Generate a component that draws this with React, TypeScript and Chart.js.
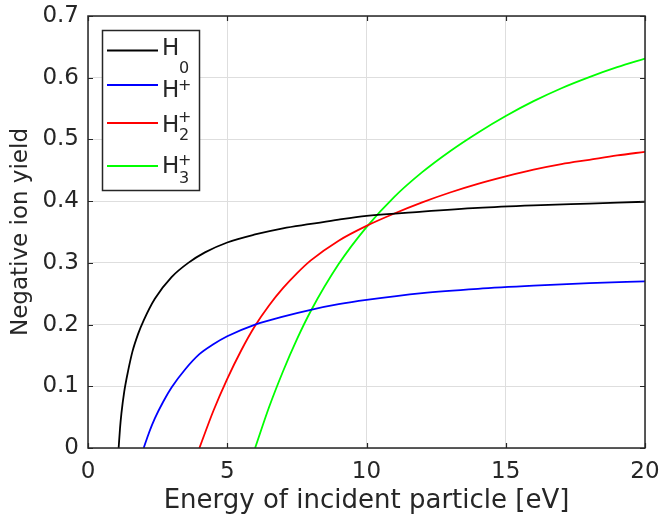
import React, { useEffect, useRef } from "react";
import { Chart, registerables } from "chart.js";

Chart.register(...registerables);

// ---------- data ----------
const h0Energy = [1.1, 1.15, 1.2, 1.3, 1.44, 1.6, 1.8, 2.0, 2.4, 3, 3.6, 4.2, 5, 6, 7, 8, 9, 10, 12, 14, 16, 18, 20];
const h0Yield = [0, 0.032, 0.056, 0.091, 0.125, 0.157, 0.185, 0.207, 0.242, 0.277, 0.3, 0.317, 0.333, 0.346, 0.356, 0.363, 0.37, 0.376, 0.383, 0.389, 0.393, 0.396, 0.399];

const hpEnergy = [2.0, 2.2, 2.4, 2.7, 3, 3.5, 4, 4.5, 5, 6, 7, 8, 9, 10, 12, 14, 16, 18, 20];
const hpYield = [0, 0.026, 0.048, 0.075, 0.098, 0.128, 0.152, 0.168, 0.181, 0.2, 0.213, 0.224, 0.233, 0.24, 0.251, 0.258, 0.263, 0.267, 0.27];

const h2Energy = [4.0, 4.5, 5, 5.5, 6, 6.5, 7, 7.5, 8, 9, 10, 11, 12, 13, 14, 15, 16, 17, 18, 19, 20];
const h2Yield = [0, 0.06, 0.112, 0.158, 0.198, 0.231, 0.259, 0.283, 0.304, 0.336, 0.36, 0.38, 0.398, 0.414, 0.428, 0.44, 0.451, 0.46, 0.467, 0.474, 0.48];

const h3Energy = [6.0, 6.5, 7, 7.5, 8, 9, 10, 11, 12, 13, 14, 15, 16, 17, 18, 19, 20];
const h3Yield = [0, 0.066, 0.124, 0.176, 0.222, 0.298, 0.358, 0.407, 0.447, 0.481, 0.511, 0.538, 0.562, 0.583, 0.601, 0.617, 0.631];

const seriesColors = ["#000000", "#0000ff", "#ff0000", "#00ff00"];
const legendBase = ["H", "H", "H", "H"];
const legendSub = ["0", "", "2", "3"];
const legendSup = ["", "+", "+", "+"];

const xTickLabels = ["0", "5", "10", "15", "20"];
const yTickLabels = ["0", "0.1", "0.2", "0.3", "0.4", "0.5", "0.6", "0.7"];

const xTitle = "Energy of incident particle [eV]";
const yTitle = "Negative ion yield";

const FONT = "'DejaVu Sans', sans-serif";
const AXIS_COLOR = "#262626";

function pts(xs: number[], ys: number[]) {
  return xs.map((x, i) => ({ x, y: ys[i] }));
}

// Box + inward ticks (MATLAB style)
const boxPlugin = {
  id: "boxTicks",
  afterDatasetsDraw(chart: any) {
    const { ctx, chartArea: a, scales } = chart;
    ctx.save();
    ctx.strokeStyle = AXIS_COLOR;
    ctx.lineWidth = 1.5;
    ctx.strokeRect(a.left, a.top, a.right - a.left, a.bottom - a.top);
    ctx.lineWidth = 1.2;
    const tl = 5;
    scales.x.ticks.forEach((t: any) => {
      const px = Math.round(scales.x.getPixelForValue(t.value)) + 0.5;
      ctx.beginPath();
      ctx.moveTo(px, a.bottom);
      ctx.lineTo(px, a.bottom - tl);
      ctx.moveTo(px, a.top);
      ctx.lineTo(px, a.top + tl);
      ctx.stroke();
    });
    scales.y.ticks.forEach((t: any) => {
      const py = Math.round(scales.y.getPixelForValue(t.value)) + 0.5;
      ctx.beginPath();
      ctx.moveTo(a.left, py);
      ctx.lineTo(a.left + tl, py);
      ctx.moveTo(a.right, py);
      ctx.lineTo(a.right - tl, py);
      ctx.stroke();
    });
    ctx.restore();
  },
};

// Legend with sub/superscripts
const legendPlugin = {
  id: "customLegend",
  afterDraw(chart: any) {
    const { ctx } = chart;
    const bx = 102.5, by = 30.5, bw = 97, bh = 160;
    ctx.save();
    ctx.fillStyle = "#ffffff";
    ctx.fillRect(bx, by, bw, bh);
    ctx.strokeStyle = AXIS_COLOR;
    ctx.lineWidth = 1.5;
    ctx.strokeRect(bx, by, bw, bh);
    const lineY = [50.5, 85, 123, 166];
    const baseY = [55, 97, 132, 173];
    const subY = [73, 0, 140, 183];
    const supY = [0, 90, 122, 165];
    for (let i = 0; i < legendBase.length; i++) {
      ctx.strokeStyle = seriesColors[i];
      ctx.lineWidth = 1.8;
      ctx.beginPath();
      ctx.moveTo(107, lineY[i]);
      ctx.lineTo(158, lineY[i]);
      ctx.stroke();
      ctx.fillStyle = AXIS_COLOR;
      ctx.textBaseline = "alphabetic";
      ctx.textAlign = "left";
      ctx.font = `23px ${FONT}`;
      ctx.fillText(legendBase[i], 162, baseY[i]);
      ctx.font = `16px ${FONT}`;
      if (legendSub[i]) ctx.fillText(legendSub[i], 179, subY[i]);
      if (legendSup[i]) ctx.fillText(legendSup[i], 178, supY[i]);
    }
    ctx.restore();
  },
};

export default function App() {
  const ref = useRef<HTMLCanvasElement>(null);
  useEffect(() => {
    document.body.style.margin = "0";
    const canvas = ref.current!;
    const energies = [h0Energy, hpEnergy, h2Energy, h3Energy];
    const yields = [h0Yield, hpYield, h2Yield, h3Yield];
    const chart = new Chart(canvas, {
      type: "scatter",
      data: {
        datasets: energies.map((e, i) => ({
          label: legendBase[i] + legendSub[i] + legendSup[i],
          data: pts(e, yields[i]),
          showLine: true,
          borderColor: seriesColors[i],
          backgroundColor: seriesColors[i],
          borderWidth: 1.8,
          pointRadius: 0,
          cubicInterpolationMode: "monotone" as const,
        })),
      },
      options: {
        animation: false,
        responsive: false,
        maintainAspectRatio: false,
        layout: { padding: { top: 16, right: 17, left: 0, bottom: 0 } },
        plugins: { legend: { display: false }, tooltip: { enabled: false } },
        scales: {
          x: {
            type: "linear",
            min: 0,
            max: 20,
            afterFit: (s: any) => {
              s.height = 69;
              s.paddingLeft = 0;
              s.paddingRight = 0;
            },
            afterBuildTicks: (s: any) => {
              s.ticks = xTickLabels.map((l) => ({ value: parseFloat(l) }));
            },
            ticks: {
              padding: 10,
              color: AXIS_COLOR,
              font: { family: FONT, size: 23 },
              callback: (_v: any, i: number) => xTickLabels[i],
            },
            grid: { color: "#dedede", lineWidth: 1, drawTicks: false },
            border: { display: false },
            title: {
              display: true,
              text: xTitle,
              color: AXIS_COLOR,
              font: { family: FONT, size: 26 },
              padding: { top: 0, bottom: 0 },
            },
          },
          y: {
            type: "linear",
            min: 0,
            max: 0.7,
            afterFit: (s: any) => {
              s.width = 88;
              s.paddingTop = 0;
              s.paddingBottom = 0;
            },
            afterBuildTicks: (s: any) => {
              s.ticks = yTickLabels.map((l) => ({ value: parseFloat(l) }));
            },
            ticks: {
              padding: 9,
              color: AXIS_COLOR,
              font: { family: FONT, size: 23 },
              callback: (_v: any, i: number) => yTickLabels[i],
            },
            grid: { color: "#dedede", lineWidth: 1, drawTicks: false },
            border: { display: false },
            title: {
              display: true,
              text: yTitle,
              color: AXIS_COLOR,
              font: { family: FONT, size: 23 },
              padding: { top: 7, bottom: 0 },
            },
          },
        },
      },
      plugins: [boxPlugin, legendPlugin],
    });
    return () => chart.destroy();
  }, []);
  return <canvas ref={ref} width={662} height={517} style={{ display: "block" }} />;
}
